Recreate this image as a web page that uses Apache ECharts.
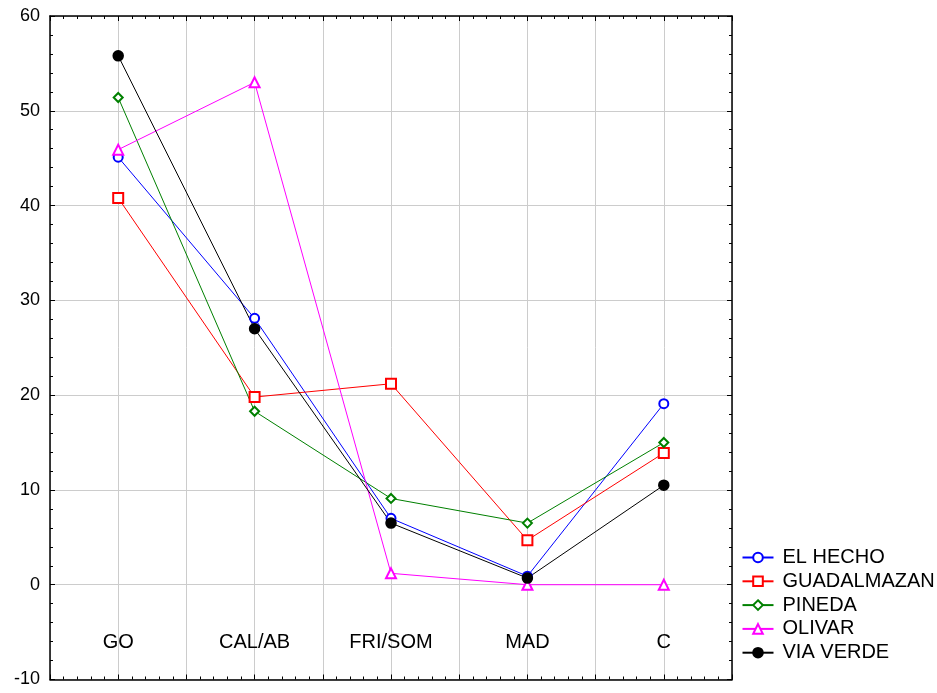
<!DOCTYPE html>
<html>
<head>
<meta charset="utf-8">
<script src="https://cdn.jsdelivr.net/npm/echarts@6/dist/echarts.min.js"></script>
<style>
html,body{margin:0;padding:0;background:#fff;}
#chart{width:937px;height:693px;}
</style>
</head>
<body>
<div id="chart"></div>
<script>
const categories = ['GO', 'CAL/AB', 'FRI/SOM', 'MAD', 'C'];
const yTicks = [-10, 0, 10, 20, 30, 40, 50, 60];
const elHecho = [45.1, 28.1, 7.0, 0.9, 19.1];
const guadalmazan = [40.8, 19.8, 21.2, 4.7, 13.9];
const pineda = [51.4, 18.3, 9.1, 6.5, 15.0];
const olivar = [45.9, 53.0, 1.2, 0, 0];
const viaVerde = [55.8, 27.0, 6.5, 0.7, 10.5];

const FONT = 'Liberation Sans, Arial, sans-serif';
const chart = echarts.init(document.getElementById('chart'), null, {renderer: 'canvas'});

function toPoints(arr) { return arr.map((v, i) => [i, v]); }

function mkSeries(name, arr, color, symbol, size) {
  return {
    name: name,
    type: 'line',
    data: toPoints(arr),
    symbol: symbol,
    symbolSize: size,
    showAllSymbol: true,
    lineStyle: {color: color, width: 1},
    itemStyle: {color: color, borderColor: color, borderWidth: 1.5},
    emphasis: {disabled: true},
    z: 3
  };
}

const xCommon = {
  type: 'value', min: -0.5, max: 4.5, interval: 0.5,
  axisLine: {show: true, onZero: false, lineStyle: {color: '#000', width: 1.5}},
  axisTick: {show: true, inside: true, length: 5, lineStyle: {color: '#000', width: 1}},
  minorTick: {show: true, splitNumber: 5, length: 3, lineStyle: {color: '#000', width: 1}},
};
const yCommon = {
  type: 'value', min: -10, max: 60, interval: 10,
  axisLine: {show: true, onZero: false, lineStyle: {color: '#000', width: 1.5}},
  axisTick: {show: true, inside: true, length: 5, lineStyle: {color: '#000', width: 1}},
  minorTick: {show: true, splitNumber: 5, length: 3, lineStyle: {color: '#000', width: 1}},
};

const option = {
  animation: false,
  backgroundColor: '#fff',
  grid: {left: 50, right: 205, top: 16, bottom: 13.5, containLabel: false, outerBoundsMode: 'none'},
  legend: {
    orient: 'vertical',
    left: 741.5,
    top: 547.5,
    itemWidth: 31,
    itemHeight: 12,
    itemGap: 3.8,
    padding: 0,
    textStyle: {fontFamily: FONT, fontSize: 20, color: '#000', padding: [0, 0, 0, 4], lineHeight: 20},
    data: ['EL HECHO', 'GUADALMAZAN', 'PINEDA', 'OLIVAR', 'VIA VERDE']
  },
  xAxis: [
    Object.assign({}, xCommon, {
      position: 'bottom',
      splitLine: {show: true, lineStyle: {color: '#cccccc', width: 1}},
      axisLabel: {
        show: true, inside: false, margin: -37, verticalAlign: 'middle',
        fontFamily: FONT, fontSize: 20, color: '#000',
        showMinLabel: true, showMaxLabel: true,
        formatter: function (v) {
          const r = Math.round(v);
          return Math.abs(v - r) < 1e-6 && r >= 0 && r < categories.length ? categories[r] : '';
        }
      }
    }),
    Object.assign({}, xCommon, {
      position: 'top',
      splitLine: {show: false},
      axisLabel: {show: false}
    })
  ],
  yAxis: [
    Object.assign({}, yCommon, {
      position: 'left',
      splitLine: {show: true, lineStyle: {color: '#cccccc', width: 1}},
      axisLabel: {
        show: true, margin: 10, fontFamily: FONT, fontSize: 18, color: '#000',
        formatter: function (v) { return yTicks.indexOf(v) >= 0 ? String(v) : ''; }
      }
    }),
    Object.assign({}, yCommon, {
      position: 'right',
      splitLine: {show: false},
      axisLabel: {show: false}
    })
  ],
  series: [
    mkSeries('EL HECHO', elHecho, '#0000ff', 'emptyCircle', 9),
    mkSeries('GUADALMAZAN', guadalmazan, '#ff0000', 'emptyRect', 10),
    mkSeries('PINEDA', pineda, '#008000', 'emptyDiamond', 9),
    mkSeries('OLIVAR', olivar, '#ff00ff', 'emptyTriangle', 10),
    mkSeries('VIA VERDE', viaVerde, '#000000', 'circle', 10)
  ]
};
chart.setOption(option);
</script>
</body>
</html>
